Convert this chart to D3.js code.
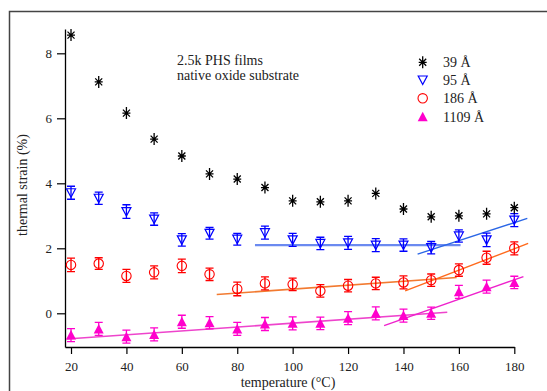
<!DOCTYPE html>
<html><head><meta charset="utf-8">
<script src="https://cdn.jsdelivr.net/npm/d3@7"></script>
<style>body{margin:0;background:#fff}svg{display:block}text{font-family:"Liberation Serif","Times New Roman",serif;fill:#222}</style>
</head><body><svg id="c" width="547" height="391"></svg>
<script>
const temps = [20,30,40,50,60,70,80,90,100,110,120,130,140,150,160,170,180];
const s39 = [8.56,7.12,6.16,5.36,4.84,4.29,4.13,3.87,3.46,3.43,3.46,3.69,3.21,2.97,3.0,3.06,3.25];
const s95 = [3.71,3.54,3.13,2.90,2.26,2.46,2.28,2.48,2.26,2.15,2.17,2.10,2.10,2.02,2.38,2.26,2.87];
const e95 = [0.2,0.19,0.21,0.19,0.19,0.18,0.18,0.2,0.2,0.19,0.2,0.2,0.19,0.19,0.19,0.21,0.2];
const s186 = [1.49,1.53,1.15,1.26,1.46,1.20,0.75,0.92,0.89,0.69,0.85,0.92,0.95,1.02,1.33,1.71,2.0];
const e186 = [0.21,0.18,0.2,0.2,0.21,0.19,0.21,0.2,0.19,0.19,0.19,0.19,0.2,0.19,0.19,0.2,0.2];
const s1109 = [-0.67,-0.48,-0.72,-0.65,-0.26,-0.29,-0.48,-0.33,-0.31,-0.31,-0.15,0.0,-0.07,0.0,0.66,0.82,0.95];
const e1109 = [0.2,0.2,0.2,0.2,0.2,0.19,0.2,0.2,0.2,0.19,0.2,0.2,0.2,0.19,0.2,0.2,0.19];
const fit95a = [[86.4,2.10],[160.6,2.10]];
const fit95b = [[145.1,1.82],[184.7,2.92]];
const fit186a = [[72.6,0.58],[159.2,1.10]];
const fit186b = [[140.6,0.69],[185,2.15]];
const fit1109a = [[18.4,-0.79],[155.8,0.03]];
const fit1109b = [[133,-0.38],[183.3,1.13]];
const xTicks = [20,40,60,80,100,120,140,160,180];
const yTicks = [0,2,4,6,8];
const legendLabels = ["39 Å","95 Å","186 Å","1109 Å"];
const noteLines = ["2.5k PHS films","native oxide substrate"];

const FONT = '"Liberation Serif","Times New Roman",serif';
const svg = d3.select("#c");
const x = d3.scaleLinear().domain([17.83,180]).range([65,514.3]);
const y = d3.scaleLinear().domain([-1.037,8.748]).range([347,29]);

// frame
svg.append("path").attr("d","M9.5,391 L9.5,11.5 L547,11.5").attr("fill","none").attr("stroke","#444").attr("stroke-width",1.5);

const xa = svg.append("g").attr("transform","translate(0,347)")
  .call(d3.axisBottom(x).tickValues(xTicks).tickSize(7).tickPadding(8).tickSizeOuter(0));
const ya = svg.append("g").attr("transform","translate(65,0)")
  .call(d3.axisLeft(y).tickValues(yTicks).tickSize(8).tickPadding(5).tickSizeOuter(0));
[xa,ya].forEach(g=>{
  g.attr("font-family",null).attr("font-size",null);
  g.select(".domain").attr("stroke","#000").attr("stroke-width",1.3);
  g.selectAll(".tick line").attr("stroke","#000").attr("stroke-width",1.2);
  g.selectAll(".tick text").style("font-family",FONT).style("font-size","13px").attr("fill","#222");
});

svg.append("text").attr("x",288).attr("y",387).attr("text-anchor","middle").style("font-size","14px").text("temperature (°C)");
svg.append("text").attr("transform","translate(27,185) rotate(-90)").attr("text-anchor","middle").style("font-size","14px").text("thermal strain (%)");

// fit lines
const line = d3.line().x(d=>x(d[0])).y(d=>y(d[1]));
const fits = [[fit95a,"#6b8af0",2.2],[fit95b,"#2a66e6",1.4],[fit186a,"#f27a30",1.6],[fit186b,"#ff6a1c",1.4],[fit1109a,"#ee44cc",1.6],[fit1109b,"#ee22cc",1.4]];
fits.forEach(f=>svg.append("path").attr("d",line(f[0])).attr("fill","none").attr("stroke",f[1]).attr("stroke-width",f[2]));

// error bars
function errBars(vals, errs, color){
  const g = svg.append("g").attr("stroke",color).attr("stroke-width",1.3).attr("fill","none");
  temps.forEach((t,i)=>{
    const cx=x(t), y1=y(vals[i]+errs[i]), y2=y(vals[i]-errs[i]);
    g.append("path").attr("d",`M${cx},${y1}V${y2}M${cx-4},${y1}H${cx+4}M${cx-4},${y2}H${cx+4}`);
  });
}
errBars(s95,e95,"#0000ff");
errBars(s186,e186,"#ff0000");
errBars(s1109,e1109,"#ff00cc");

// markers
function star(g,cx,cy){
  g.append("path").attr("d",`M${cx},${cy-6}V${cy+6}M${cx-4},${cy}H${cx+4}M${cx-3.5},${cy-3.5}L${cx+3.5},${cy+3.5}M${cx-3.5},${cy+3.5}L${cx+3.5},${cy-3.5}`)
   .attr("stroke","#000").attr("stroke-width",1.3).attr("fill","none");
}
function tDown(g,cx,cy){
  g.append("path").attr("d",`M${cx-4.5},${cy-4}H${cx+4.5}L${cx},${cy+4.5}Z`).attr("stroke","#0000ff").attr("stroke-width",1.2).attr("fill","none");
}
function circ(g,cx,cy){
  g.append("circle").attr("cx",cx).attr("cy",cy).attr("r",4.7).attr("stroke","#ff0000").attr("stroke-width",1.1).attr("fill","none");
}
function tUp(g,cx,cy){
  g.append("path").attr("d",`M${cx-5},${cy+4.5}H${cx+5}L${cx},${cy-5}Z`).attr("fill","#ff00cc");
}
const mg = svg.append("g");
temps.forEach((t,i)=>{
  star(mg,x(t),y(s39[i]));
  tDown(mg,x(t),y(s95[i]));
  circ(mg,x(t),y(s186[i]));
  tUp(mg,x(t),y(s1109[i]));
});

// annotation
noteLines.forEach((s,i)=>svg.append("text").attr("x",177).attr("y",65+15*i).style("font-size","14px").text(s));

// legend
const legY = [62.3,80,98.3,116.7];
const fns = [star,tDown,circ,tUp];
legendLabels.forEach((s,i)=>{
  fns[i](svg,422.7,legY[i]);
  svg.append("text").attr("x",443).attr("y",legY[i]+5).style("font-size","14px").text(s);
});
</script></body></html>
